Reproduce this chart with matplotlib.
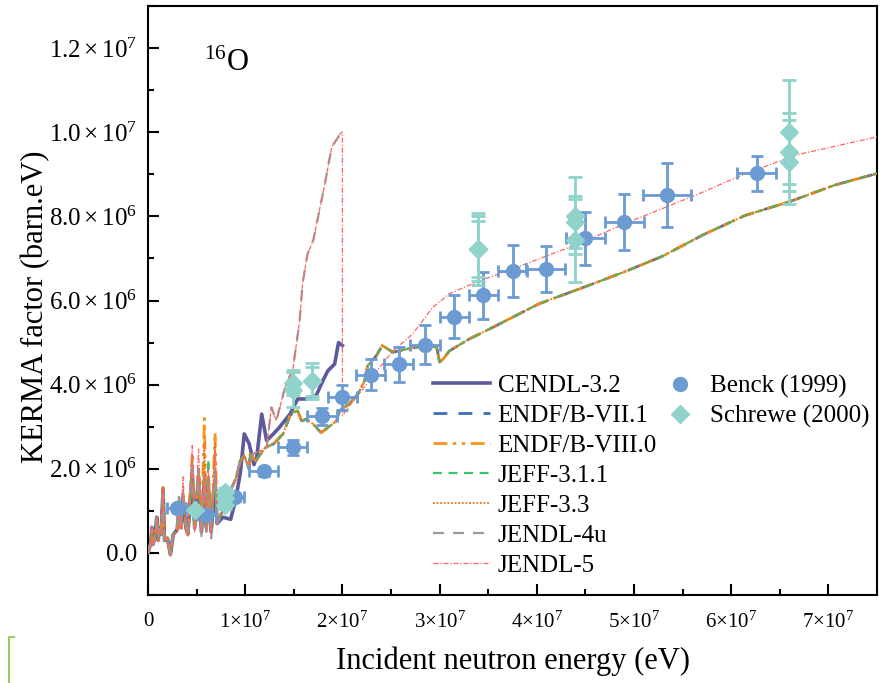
from __future__ import annotations

import numpy as np
import matplotlib

matplotlib.use("Agg")
import matplotlib.pyplot as mp
from matplotlib.lines import Line2D
from matplotlib.ticker import FixedLocator, FuncFormatter, MultipleLocator

# energies in MeV, KERMA factors in 1e6 barn.eV

# {{{ evaluated data

E_LOW = [0.0, 0.3, 0.4, 0.5, 0.7, 0.9, 1.05, 1.2, 1.35, 1.55, 1.7, 2.0,
         2.3, 2.6, 3.0, 3.2, 3.4, 3.6, 3.9, 4.1, 4.55, 4.8, 5.2, 5.5,
         5.8, 6.0, 6.2, 6.5, 6.9, 7.1, 7.7, 8.5, 9.0, 9.5, 9.9, 10.4]

K_ENDF71_LOW = [0.0, 0.25, 0.62, 0.2, 0.35, 0.85, 0.3, 0.6, 0.45, 1.55, 0.3, 0.35,
                -0.05, 0.44, 0.55, 1.1, 0.6, 1.3, 0.6, 0.45, 2.0, 0.6, 1.9, 0.5,
                1.8, 0.6, 1.7, 0.5, 1.9, 0.75, 1.0, 1.5, 1.75, 2.2, 2.3, 2.0]
K_ENDF80_LOW = [0.0, 0.25, 0.62, 0.2, 0.35, 0.85, 0.3, 0.6, 0.45, 1.55, 0.3, 0.35,
                -0.05, 0.44, 0.55, 1.1, 0.6, 1.4, 0.6, 0.45, 2.3, 0.6, 2.0, 0.5,
                3.2, 0.6, 1.8, 0.5, 2.86, 0.75, 1.0, 1.5, 1.75, 2.2, 2.3, 2.0]
K_JEFF311_LOW = [0.0, 0.25, 0.62, 0.2, 0.35, 0.85, 0.3, 0.6, 0.45, 1.55, 0.3, 0.35,
                 -0.05, 0.44, 0.55, 1.1, 0.6, 1.3, 0.6, 0.45, 2.0, 0.6, 1.9, 0.5,
                 1.9, 0.6, 2.23, 0.5, 2.0, 0.75, 1.0, 1.5, 1.75, 2.2, 2.3, 2.0]
K_JEFF33_LOW = [0.0, 0.25, 0.62, 0.2, 0.35, 0.85, 0.3, 0.6, 0.45, 1.55, 0.3, 0.35,
                -0.05, 0.44, 0.55, 1.1, 0.6, 1.4, 0.6, 0.45, 2.2, 0.6, 2.0, 0.5,
                2.6, 0.6, 1.8, 0.5, 2.6, 0.75, 1.0, 1.5, 1.75, 2.2, 2.3, 2.0]
K_JENDL4_LOW = [0.0, 0.22, 0.6, 0.2, 0.32, 0.85, 0.3, 0.58, 0.44, 1.55, 0.3, 0.35,
                -0.03, 0.45, 0.52, 1.45, 0.58, 1.5, 0.55, 0.4, 2.2, 0.55, 2.0, 0.4,
                1.8, 0.5, 1.8, 0.35, 2.0, 0.7, 0.95, 1.5, 1.75, 2.2, 2.3, 2.0]
K_JENDL5_LOW = [0.0, 0.2, 0.64, 0.18, 0.3, 0.88, 0.28, 0.55, 0.42, 1.6, 0.3, 0.33,
                -0.05, 0.42, 0.5, 1.0, 0.55, 1.81, 0.5, 0.4, 2.55, 0.5, 2.47, 0.45,
                1.9, 0.55, 2.0, 0.45, 2.4, 0.75, 1.0, 1.45, 1.7, 2.1, 2.35, 2.0]
K_CENDL_LOW = [0.0, 0.25, 0.6, 0.2, 0.35, 0.85, 0.3, 0.6, 0.45, 1.5, 0.3, 0.35,
               -0.03, 0.44, 0.55, 1.1, 0.6, 1.3, 0.6, 0.45, 1.9, 0.6, 1.8, 0.5,
               1.7, 0.6, 1.6, 0.5, 1.7, 0.7, 0.85, 0.8, 1.25, 1.9, 2.83, 2.6]

# shared by ENDF/B-VII.1, ENDF/B-VIII.0, JEFF-3.1.1 and JEFF-3.3
E_MID = [10.5, 11.1, 12.0, 12.9, 13.9, 14.6, 14.9, 15.4, 15.8, 16.3, 17.0, 17.8,
         18.5, 19.4, 19.7, 20.7, 21.6, 22.3, 22.6, 23.5, 24.1, 25.2, 26.9, 28.5,
         29.7]
K_MID = [2.35, 2.19, 2.5, 2.59, 2.83, 3.26, 3.34, 3.38, 3.14, 3.18, 3.06, 2.86,
         2.98, 3.14, 3.38, 3.54, 3.78, 4.1, 4.45, 4.69, 4.93, 4.77, 4.86, 4.92,
         4.89]
E_TAIL = [30.0, 30.4, 31.0, 33.0, 35.8, 40.2, 45.0, 49.0, 52.9, 57.0, 61.4, 66.0,
          70.6, 75.0]
K_TAIL = [4.53, 4.62, 4.8, 5.08, 5.4, 5.92, 6.33, 6.68, 7.05, 7.55, 8.02, 8.35,
          8.74, 9.02]

E_CENDL_HI = [10.9, 11.2, 11.7, 12.2, 12.9, 13.5, 14.6, 15.4, 16.3, 17.3, 18.0,
              18.5, 19.2, 19.6, 20.0]
K_CENDL_HI = [2.1, 2.3, 3.3, 2.67, 2.83, 2.98, 3.3, 3.66, 3.66, 3.74, 4.1,
              4.33, 4.49, 5.0, 4.93]

E_JENDL4_HI = [10.8, 12.2, 12.7, 13.2, 14.1, 14.9, 15.6, 15.9, 16.4, 17.0, 18.2,
               18.9, 19.9, 20.0]
K_JENDL4_HI = [2.35, 2.5, 3.46, 3.14, 3.94, 4.37, 5.52, 6.4, 7.1, 7.43, 8.78,
               9.65, 10.0, 10.0]

E_JENDL5_HI = [10.8, 12.2, 12.7, 13.2, 14.1, 14.9, 15.6, 15.9, 16.4, 17.0, 18.2,
               18.9, 19.9, 20.0, 20.0, 21.0, 22.4, 23.8, 25.2, 27.2, 29.3, 31.0,
               34.0, 37.5, 44.3, 49.4, 56.3, 60.7, 66.5, 75.0]
K_JENDL5_HI = [2.35, 2.5, 3.46, 3.14, 3.94, 4.37, 5.52, 6.4, 7.1, 7.43, 8.78,
               9.65, 10.0, 10.0, 3.26, 3.58, 3.98, 4.4, 4.8, 5.2, 5.84, 6.16,
               6.46, 6.75, 7.35, 7.86, 8.5, 8.94, 9.45, 9.89]

# }}}

# {{{ measurements

BENCK_E = [2.94, 6.0, 8.9, 11.9, 14.9, 17.9, 20.0, 22.9, 25.8, 28.5, 31.5, 34.5,
           37.5, 40.9, 45.0, 49.0, 53.4, 62.6]
BENCK_K = [1.08, 0.9, 1.32, 1.94, 2.51, 3.25, 3.70, 4.24, 4.48, 4.95, 5.62, 6.12,
           6.70, 6.75, 7.48, 7.86, 8.5, 9.02]
BENCK_DE = [1.0, 1.0, 1.0, 1.5, 1.5, 1.5, 1.5, 1.5, 1.5, 1.5, 1.5, 1.5,
            1.5, 2.0, 2.0, 2.0, 2.5, 2.05]
BENCK_DK = [0.05, 0.05, 0.08, 0.1, 0.17, 0.2, 0.3, 0.36, 0.42, 0.46, 0.51, 0.56,
            0.61, 0.55, 0.63, 0.67, 0.76, 0.42]

SCHREWE_E = [4.8, 7.9, 7.9, 7.9, 14.9, 14.9, 16.9, 16.9, 33.9, 33.9, 33.9,
             43.9, 43.9, 43.9, 65.9, 65.9, 65.9]
SCHREWE_K = [1.02, 1.45, 1.3, 1.15, 4.05, 3.88, 4.08, 4.08, 7.23, 7.23, 7.23,
             8.02, 7.87, 7.43, 10.0, 9.53, 9.3]
SCHREWE_DK = [0.05, 0.1, 0.1, 0.1, 0.3, 0.42, 0.43, 0.35, 0.85, 0.77, 0.67,
              0.91, 0.62, 0.98, 1.24, 0.93, 1.0]

# }}}

X_TICKS = [0.0, 1.0e7, 2.0e7, 3.0e7, 4.0e7, 5.0e7, 6.0e7, 7.0e7]
Y_TICKS = [0.0, 2.0e6, 4.0e6, 6.0e6, 8.0e6, 1.0e7, 1.2e7]


def sci_label(value: float, ndigits: int, zero: str, times: str) -> str:
    if value == 0:
        return zero
    exp = int(np.floor(np.log10(abs(value)) + 1.0e-9))
    mant = value / 10**exp
    return rf"${mant:.{ndigits}f}{times}10^{{{exp}}}$"


def series(*parts: list[float]) -> np.ndarray:
    return np.concatenate([np.asarray(p, dtype=float) for p in parts]) * 1.0e6


def main() -> int:
    mp.rcParams.update({
        "font.family": "Liberation Serif",
        "mathtext.fontset": "custom",
        "mathtext.rm": "Liberation Serif",
        "mathtext.it": "Liberation Serif:italic",
        "axes.linewidth": 1.5,
    })

    fig = mp.figure(figsize=(8.81, 6.83), dpi=100)
    ax = fig.add_axes((0.168, 0.1288, 0.8275, 0.8624))

    e_eval = series(E_LOW, E_MID, E_TAIL)

    ax.plot(series(E_LOW, E_CENDL_HI), series(K_CENDL_LOW, K_CENDL_HI),
            color="#5d5a9c", lw=2.6, ls="-", label="CENDL-3.2", zorder=3)
    ax.plot(e_eval, series(K_ENDF71_LOW, K_MID, K_TAIL),
            color="#3b6fb3", lw=2.0, ls=(0, (5, 4)), label="ENDF/B-VII.1", zorder=3)
    ax.plot(e_eval, series(K_ENDF80_LOW, K_MID, K_TAIL),
            color="#f7931e", lw=2.0, ls=(0, (5, 2, 1.2, 2, 1.2, 2)),
            label="ENDF/B-VIII.0", zorder=3)
    ax.plot(e_eval, series(K_JEFF311_LOW, K_MID, K_TAIL),
            color="#35c46a", lw=1.6, ls=(0, (4, 3)), label="JEFF-3.1.1", zorder=3)
    ax.plot(e_eval, series(K_JEFF33_LOW, K_MID, K_TAIL),
            color="#e8731c", lw=1.3, ls=(0, (1, 1)), label="JEFF-3.3", zorder=3)
    ax.plot(series(E_LOW, E_JENDL4_HI), series(K_JENDL4_LOW, K_JENDL4_HI),
            color="#9a9a9a", lw=1.6, ls=(0, (5, 4)), label="JENDL-4u", zorder=3)
    ax.plot(series(E_LOW, E_JENDL5_HI), series(K_JENDL5_LOW, K_JENDL5_HI),
            color="#ff6464", lw=0.9, ls=(0, (4, 1.5, 1, 1.5)), label="JENDL-5",
            zorder=4)

    benck = ax.errorbar(series(BENCK_E), series(BENCK_K),
                        xerr=series(BENCK_DE), yerr=series(BENCK_DK),
                        fmt="o", color="#6b9bd2", ms=10, elinewidth=2.0,
                        capsize=4, capthick=2.0, zorder=5, label="Benck (1999)")
    schrewe = ax.errorbar(series(SCHREWE_E), series(SCHREWE_K),
                          yerr=series(SCHREWE_DK),
                          fmt="D", color="#8fd3ca", ms=9.5, elinewidth=2.0,
                          capsize=5, capthick=2.0, zorder=5,
                          label="Schrewe (2000)")

    ax.set_xlim(0.0, 7.5e7)
    ax.set_ylim(-1.0e6, 1.3e7)

    ax.xaxis.set_major_locator(FixedLocator(X_TICKS))
    ax.yaxis.set_major_locator(FixedLocator(Y_TICKS))
    ax.xaxis.set_minor_locator(MultipleLocator(5.0e6))
    ax.yaxis.set_minor_locator(MultipleLocator(1.0e6))
    ax.xaxis.set_major_formatter(
        FuncFormatter(lambda v, _: sci_label(v, 0, "0", r"{\times}")))
    ax.yaxis.set_major_formatter(
        FuncFormatter(lambda v, _: sci_label(v, 1, "0.0", r"\times")))
    ax.tick_params(which="both", direction="in", width=1.5)
    ax.tick_params(which="major", length=8)
    ax.tick_params(which="minor", length=4)
    ax.tick_params(axis="x", pad=12, labelsize=15)
    ax.tick_params(axis="y", pad=8, labelsize=18)

    ax.set_xlabel("Incident neutron energy (eV)", fontsize=22, labelpad=10)
    ax.set_ylabel("KERMA factor (barn.eV)", fontsize=22)
    ax.yaxis.set_label_coords(-0.134, 0.49)

    ax.text(0.077, 0.89, r"$^{16}$O", transform=ax.transAxes, fontsize=22,
            va="baseline", ha="left")

    handles, labels = ax.get_legend_handles_labels()
    lines = [(h, lab) for h, lab in zip(handles, labels) if isinstance(h, Line2D)]
    leg = ax.legend([h for h, _ in lines], [lab for _, lab in lines],
                    loc="upper left", bbox_to_anchor=(0.391, 0.374),
                    frameon=False, fontsize=18, handlelength=2.28,
                    handletextpad=0.3, labelspacing=0.3, borderpad=0.0,
                    borderaxespad=0.0)
    ax.add_artist(leg)
    ax.legend([benck[0], schrewe[0]], ["Benck (1999)", "Schrewe (2000)"],
              loc="upper left", bbox_to_anchor=(0.713, 0.374), frameon=False,
              fontsize=18, handlelength=1.0, handletextpad=0.7,
              labelspacing=0.3, borderpad=0.0, borderaxespad=0.0, numpoints=1)

    # small bracket mark in the lower left corner
    fig.add_artist(Line2D([0.0097, 0.0097, 0.016], [0.0, 0.067, 0.067],
                          transform=fig.transFigure, color="#9ccc65", lw=1.5))

    fig.savefig("out.png", dpi=100)
    mp.close(fig)
    return 0


if __name__ == "__main__":
    raise SystemExit(main())
